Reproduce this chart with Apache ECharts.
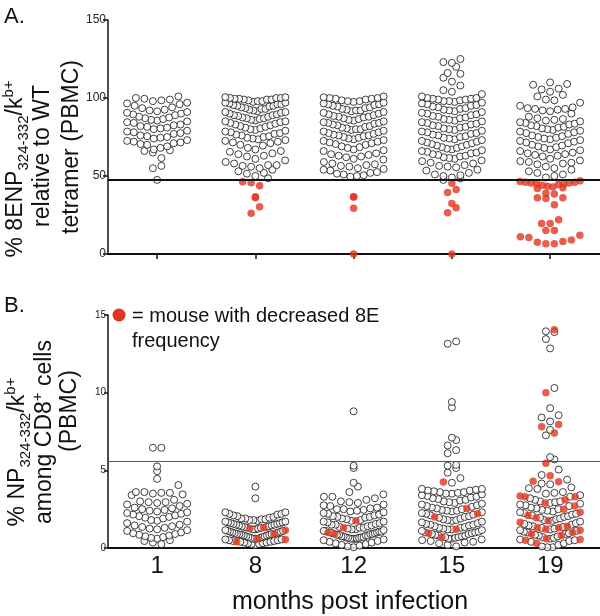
<!DOCTYPE html>
<html><head><meta charset="utf-8">
<script src="https://cdn.jsdelivr.net/npm/echarts@6/dist/echarts.min.js"></script>
<style>html,body{margin:0;padding:0;background:#fff}#c{width:600px;height:616px}</style>
</head><body><div id="c"></div>
<script>
// ---------------- DATA ----------------
const months = ['1', '8', '12', '15', '19'];
const topTicks = [0, 50, 100, 150];
const bottomTicks = [0, 5, 10, 15];
const topCutoff = 47.4;
const bottomCutoff = 5.57;

// Panel A: % 8ENP tetramer relative to WT (white = normal, red = decreased)
const topWhite_m1 = [101,100,99.5,99,98.5,98,97,96.5,96,95,94,93.5,92.5,92,91.5,91,90.5,90,89.5,89,88,87.5,87,86.5,86,85.5,85,84.5,84,83,82.5,82,81.5,81,80.5,80,79,78.5,78,77.5,77,76,75.5,75,74.5,74,73,72.5,72,71.5,71,70.5,70,69,68,67,66.5,66,65,61.5,56.5,55,47.5];
const topWhite_m8 = [100.5,100.5,100,100,100,99.5,99.5,99,99,99,98.5,98,98,97.5,97,97,96.5,96,96,95.5,95,95,94.5,94,93.5,93,93,92.5,92,91.5,91,91,90.5,90,89.5,89,89,88.5,88,87.5,87,87,86.5,86,85.5,85,85,84.5,84,83.5,83,82.5,82,81.5,81,80.5,80,79.5,79,78.5,78,77.5,77,76.5,76,75.5,75,74.5,74,73.5,73,72.5,72,71.5,71,70,69.5,68,67,66,65.5,64.5,64,63,62.5,61,60,59,58,57,57,56.5,56,55,54,53,52,51.5,50,48.5];
const topWhite_m12 = [101,100.5,100,100,99.5,99.5,99,98.5,98,98,97.5,97,96.5,96,96,95.5,95,94.5,94,93.5,93,92.5,92,92,91.5,91,90.5,90,89.5,89,88.5,88,88,87.5,87,86.5,86,85.5,85,84.5,84,84,83.5,83,82.5,82,81.5,81,80.5,80,80,79.5,79,78.5,78,77.5,77,76.5,76,76,75.5,75,74.5,74,73.5,73,72.5,72,71.5,71,70.5,70,69,68.5,68,67,66.5,66,64.5,64,63.5,63,62.5,62,61,60.5,59,58,57.5,57,56.5,56,55,54.5,54,53.5,52.5,52,51.5,51,50.5,50,49.5];
const topWhite_m15 = [125,123,122.5,120,116,115.5,113,110.5,108,105,104,102.5,101,100,100,99.5,99.5,99,99,98.5,98,98,97.5,97,96.5,96,95.5,95,94.5,94,93.5,93,92.5,92,91.5,91,90.5,90,89.5,89,88.5,88,87.5,87,86.5,86,85.5,85,84.5,84,83.5,83,82.5,82,81.5,81,80.5,80,79.5,79,78.5,78,77.5,77,76.5,76,75.5,75,74.5,74,73.5,73,72.5,72,71.5,71,70.5,70,69.5,69,68.5,68,67.5,67,66.5,66,65.5,65,64.5,64,63.5,63,62.5,62,61.5,61,60,59.5,58.5,58,57,56.5,56,55.5,54,53.5,52,51,50.5,50,49,48.5,47.5];
const topWhite_m19 = [110,109,108.5,106,105.5,104,102,101,99,98.5,97,95,94,93.5,93,93,92.5,92,91.5,90,88,87,86.5,86,85.5,85,84.5,84,83.5,83,82.5,82,81.5,81,80.5,80,79.5,79,78.5,78,77.5,77,76,75.5,75,74.5,74,73.5,73,72.5,72,71.5,71,70,69.5,69,68.5,68,67,66.5,66,65,64.5,64,63.5,63,62.5,61,60,59.5,59,58.5,58,57.5,56,55,54,53,52,51,50,49];
const topRed_m1 = [];
const topRed_m8 = [46.3,45.7,43.8,36.7,36.1,30.3,26.1];
const topRed_m12 = [36.7,36.5,29.3,0];
const topRed_m15 = [45.3,41.4,39.5,32.3,29.7,26.5,0];
const topRed_m19 = [47,46.5,46,46,45.5,45.5,45,45,44.5,44,43.5,43,42.5,42,39,38.5,36,36,35.5,31.5,22,19.5,19.5,15,15,12,11,10.5,9,8,7.5,6.5,6.5];

// Panel B: % NP tetramer+ among CD8+ cells
const botWhite_m1 = [6.45,6.45,5.25,4.95,4.45,4.05,3.6,3.6,3.55,3.55,3.5,3.45,3.4,3.1,3.0,2.95,2.95,2.9,2.85,2.8,2.7,2.6,2.55,2.5,2.45,2.4,2.35,2.3,2.25,2.2,2.15,2.1,2.05,2.0,1.95,1.9,1.8,1.75,1.7,1.6,1.5,1.45,1.4,1.35,1.3,1.25,1.2,1.15,1.1,1.0,0.95,0.9,0.85,0.8,0.75,0.7,0.65,0.6,0.5,0.45,0.35,0.25];
const botWhite_m8 = [3.95,3.2,2.3,2.3,2.2,2.2,2.15,2.1,2.05,2.0,1.95,1.9,1.9,1.85,1.85,1.8,1.8,1.75,1.7,1.7,1.65,1.65,1.6,1.6,1.55,1.55,1.5,1.5,1.45,1.45,1.4,1.4,1.35,1.35,1.3,1.3,1.25,1.2,1.2,1.15,1.1,1.1,1.05,1.05,1.0,1.0,0.95,0.95,0.9,0.9,0.88,0.85,0.85,0.8,0.8,0.75,0.75,0.7,0.7,0.65,0.65,0.6,0.6,0.55,0.55,0.5,0.5,0.45,0.45,0.4,0.4,0.35,0.35,0.3,0.3,0.25,0.25,0.2];
const botWhite_m12 = [8.8,5.3,5.15,4.2,3.95,3.6,3.45,3.3,3.3,3.2,3.1,3.0,2.95,2.9,2.8,2.75,2.7,2.6,2.55,2.5,2.5,2.45,2.4,2.35,2.3,2.25,2.2,2.15,2.1,2.05,2.0,2.0,1.95,1.9,1.85,1.8,1.75,1.7,1.7,1.65,1.6,1.55,1.5,1.5,1.45,1.4,1.35,1.3,1.3,1.25,1.2,1.2,1.15,1.1,1.1,1.05,1.05,1.0,1.0,0.95,0.95,0.9,0.9,0.85,0.85,0.8,0.8,0.75,0.75,0.7,0.7,0.68,0.65,0.65,0.62,0.6,0.6,0.58,0.55,0.5,0.45,0.4,0.35,0.3,0.25,0.2,0.15,0.1,0.05];
const botWhite_m15 = [13.3,13.15,9.4,9.05,7.1,6.95,6.6,6.3,6.1,5.35,5.3,5.15,4.85,4.5,4.2,3.8,3.8,3.75,3.7,3.7,3.65,3.6,3.6,3.55,3.5,3.5,3.45,3.4,3.35,3.3,3.25,3.2,3.15,3.1,3.05,3.0,2.95,2.9,2.85,2.8,2.75,2.7,2.65,2.6,2.55,2.5,2.45,2.4,2.4,2.35,2.3,2.25,2.2,2.15,2.1,2.05,2.0,1.95,1.9,1.85,1.8,1.8,1.75,1.7,1.65,1.6,1.55,1.5,1.5,1.45,1.4,1.35,1.3,1.3,1.25,1.2,1.2,1.15,1.1,1.05,1.0,1.0,0.95,0.9,0.9,0.85,0.8,0.8,0.75,0.7,0.7,0.65,0.6,0.6,0.55,0.5,0.45,0.4,0.35,0.3,0.2,0.1];
const botWhite_m19 = [13.95,13.9,13.45,12.85,10.3,9.0,8.55,8.4,8.15,7.6,7.25,5.85,5.7,5.05,4.7,4.4,4.15,4.1,3.9,3.85,3.8,3.6,3.55,3.5,3.4,3.3,3.2,3.1,3.0,3.0,2.95,2.9,2.85,2.8,2.75,2.7,2.6,2.55,2.5,2.45,2.4,2.35,2.3,2.25,2.2,2.15,2.1,2.05,2.0,1.95,1.9,1.85,1.8,1.75,1.7,1.6,1.55,1.5,1.45,1.4,1.35,1.3,1.25,1.2,1.15,1.1,1.05,1.0,0.95,0.9,0.85,0.8,0.75,0.7,0.65,0.6,0.55,0.5,0.45,0.4,0.3,0.2,0.1,0.05,0.05];
const botRed_m1 = [];
const botRed_m8 = [1.3,1.25,1.15,0.9,0.6,0.55,0.4];
const botRed_m12 = [1.75,1.3,1.0,0.9];
const botRed_m15 = [4.25,2.55,2.2,2.0,1.2,0.95,0.7];
const botRed_m19 = [14.05,10.0,7.95,7.8,7.4,5.45,4.65,4.3,4.27,3.35,3.3,3.3,3.1,2.9,2.7,2.5,2.3,2.1,1.95,1.75,1.65,1.4,1.3,1.3,1.2,1.15,1.0,0.9,0.8,0.6,0.55,0.5,0.3];

// ---------------- LAYOUT (beeswarm, computed from values) ----------------
const GRID_LEFT = 108, GRID_W = 492, X_MIN = 0.5, X_MAX = 0.5 + 492 / 98.25;
const PX_PER_CAT = GRID_W / (X_MAX - X_MIN);
const TOP_H = 234, BOT_H = 233;

function swarm(whites, reds, pxPerUnit, rowH, maxHalf, dMax) {
  const W = [], R = [];
  whites.forEach((wv, gi) => {
    const items = wv.map(v => ({ v, red: false })).concat(reds[gi].map(v => ({ v, red: true })));
    const bins = {};
    items.forEach(it => {
      const b = Math.floor(it.v * pxPerUnit / rowH);
      (bins[b] = bins[b] || []).push(it);
    });
    Object.values(bins).forEach(arr => {
      arr.sort((a, b) => a.v - b.v);
      const n = arr.length;
      const s = n > 1 ? Math.min(dMax, 2 * maxHalf / (n - 1)) : 0;
      const slots = [];
      for (let k = 0; k < n; k++) slots.push((k - (n - 1) / 2) * s);
      const order = slots.map((o, k) => ({ o, k }))
        .sort((a, b) => Math.abs(a.o) - Math.abs(b.o) || (a.k % 2) - (b.k % 2));
      arr.forEach((it, j) => {
        const off = order[j].o;
        const pt = [gi + 1 + off / PX_PER_CAT, it.v];
        (it.red ? R : W).push(pt);
      });
    });
  });
  return { W, R };
}

const topW = [topWhite_m1, topWhite_m8, topWhite_m12, topWhite_m15, topWhite_m19];
const topR = [topRed_m1, topRed_m8, topRed_m12, topRed_m15, topRed_m19];
const botW = [botWhite_m1, botWhite_m8, botWhite_m12, botWhite_m15, botWhite_m19];
const botR = [botRed_m1, botRed_m8, botRed_m12, botRed_m15, botRed_m19];

const topPts = swarm(topW, topR, TOP_H / 150, 9.5, 30, 8.5);
const botPts = swarm(botW, botR, BOT_H / 15, 9, 30, 8.5);

const FONT = "'Liberation Sans', Arial, Helvetica, sans-serif";
const RED = '#e3341f';

const chart = echarts.init(document.getElementById('c'), null, { renderer: 'canvas' });

const whiteStyle = { color: '#fff', borderColor: '#111', borderWidth: 1 };
const redStyle = { color: RED, borderWidth: 0 };

const rich = {
  n: { fontSize: 23, fontFamily: FONT, color: '#111', lineHeight: 30, verticalAlign: 'middle' },
  sub: { fontSize: 15, fontFamily: FONT, color: '#111', lineHeight: 30, verticalAlign: 'bottom' },
  sup: { fontSize: 15, fontFamily: FONT, color: '#111', lineHeight: 30, verticalAlign: 'top' }
};
function rtext(x, y, text) {
  return { type: 'text', x, y, rotation: Math.PI / 2,
    style: { text, rich, align: 'center', verticalAlign: 'bottom', font: '23px ' + FONT, fill: '#111' } };
}

chart.setOption({
  animation: false,
  backgroundColor: '#fff',
  textStyle: { fontFamily: FONT },
  grid: [
    { left: GRID_LEFT, top: 20, width: GRID_W, height: TOP_H },
    { left: GRID_LEFT, top: 315, width: GRID_W, height: BOT_H }
  ],
  xAxis: [
    { type: 'value', gridIndex: 0, min: X_MIN, max: X_MAX, splitLine: { show: false },
      axisLine: { lineStyle: { color: '#111', width: 2 } },
      axisTick: { show: true, customValues: [1, 2, 3, 4, 5], length: 5, lineStyle: { color: '#111', width: 1.5 } },
      axisLabel: { show: false } },
    { type: 'value', gridIndex: 1, min: X_MIN, max: X_MAX, splitLine: { show: false },
      axisLine: { lineStyle: { color: '#111', width: 2 } },
      axisTick: { show: false },
      axisLabel: { show: true, customValues: [1, 2, 3, 4, 5], formatter: v => months[Math.round(v) - 1],
        fontSize: 24, color: '#111', margin: 6, fontFamily: FONT } }
  ],
  yAxis: [
    { type: 'value', gridIndex: 0, min: 0, max: 150, interval: 50, splitLine: { show: false },
      axisLine: { show: true, lineStyle: { color: '#111', width: 1.5 } },
      axisTick: { show: true, length: 5, lineStyle: { color: '#111', width: 1.5 } },
      axisLabel: { fontSize: 12, color: '#222', margin: 2, fontFamily: FONT } },
    { type: 'value', gridIndex: 1, min: 0, max: 15, interval: 5, splitLine: { show: false },
      axisLine: { show: true, lineStyle: { color: '#111', width: 1.5 } },
      axisTick: { show: true, length: 4, lineStyle: { color: '#111', width: 1.5 } },
      axisLabel: { fontSize: 10, color: '#222', margin: 2, fontFamily: FONT } }
  ],
  series: [
    { type: 'line', xAxisIndex: 0, yAxisIndex: 0, data: [], z: 1,
      markLine: { silent: true, symbol: 'none', label: { show: false },
        lineStyle: { color: '#111', width: 2, type: 'solid' }, data: [{ yAxis: topCutoff }] } },
    { type: 'line', xAxisIndex: 1, yAxisIndex: 1, data: [], z: 1,
      markLine: { silent: true, symbol: 'none', label: { show: false },
        lineStyle: { color: '#555', width: 1.2, type: 'solid' }, data: [{ yAxis: bottomCutoff }] } },
    { type: 'scatter', xAxisIndex: 0, yAxisIndex: 0, data: topPts.W, symbolSize: 7, itemStyle: whiteStyle, z: 3 },
    { type: 'scatter', xAxisIndex: 0, yAxisIndex: 0, data: topPts.R, symbolSize: 7.5, itemStyle: redStyle, z: 4 },
    { type: 'scatter', xAxisIndex: 1, yAxisIndex: 1, data: botPts.W, symbolSize: 7, itemStyle: whiteStyle, z: 3 },
    { type: 'scatter', xAxisIndex: 1, yAxisIndex: 1, data: botPts.R, symbolSize: 7.5, itemStyle: redStyle, z: 4 }
  ],
  graphic: [
    { type: 'text', left: 4, top: 6, style: { text: 'A.', font: '22px ' + FONT, fill: '#111' } },
    { type: 'text', left: 4, top: 295, style: { text: 'B.', font: '22px ' + FONT, fill: '#111' } },
    rtext(31, 169, '{n|% 8ENP}{sub|324-332}{n|/k}{sup|b+}'),
    rtext(58, 156, '{n|relative to WT}'),
    rtext(87, 147, '{n|tetramer (PBMC)}'),
    rtext(33, 452, '{n|% NP}{sub|324-332}{n|/k}{sup|b+}'),
    rtext(60, 432, '{n|among CD8}{sup|+}{n| cells}'),
    rtext(85, 411, '{n|(PBMC)}'),
    { type: 'circle', shape: { cx: 119, cy: 315, r: 6.5 }, style: { fill: RED } },
    { type: 'text', x: 132, y: 316, style: { text: '= mouse with decreased 8E', font: '20px ' + FONT, fill: '#111', verticalAlign: 'middle' } },
    { type: 'text', x: 132, y: 341, style: { text: 'frequency', font: '20px ' + FONT, fill: '#111', verticalAlign: 'middle' } },
    { type: 'text', x: 350, y: 602, style: { text: 'months post infection', font: '25px ' + FONT, fill: '#111', align: 'center', verticalAlign: 'middle' } }
  ]
});
</script>
</body></html>
